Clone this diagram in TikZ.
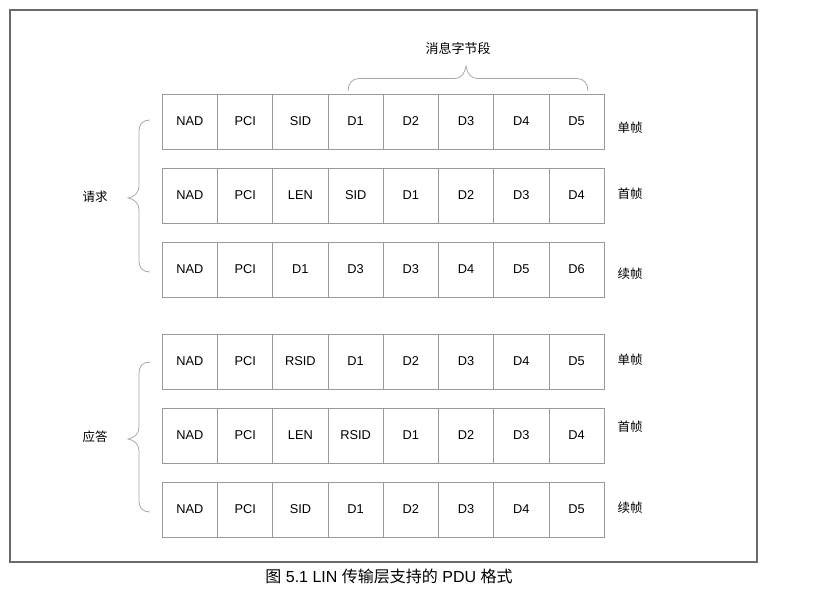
\documentclass[tikz,border=0pt]{standalone}
\usepackage{fontspec}
\setmainfont{Liberation Sans}
\newfontfamily\cjk{Noto Sans CJK SC}
\definecolor{framegray}{HTML}{6A6A6A}
\definecolor{cellgray}{HTML}{9A9A9A}
\definecolor{bgray}{HTML}{A8A8A8}
\begin{document}
\begin{tikzpicture}[x=1pt,y=-1pt,
  cell/.style={draw=cellgray, line width=0.8pt, minimum width=55.25pt, minimum height=55pt,
    anchor=north west, inner sep=0pt, outer sep=0pt, font=\fontsize{12.8}{14}\selectfont},
  lab/.style={font=\cjk\fontsize{12.5}{14}\selectfont, inner sep=0pt},
  bracestyle/.style={draw=bgray, line width=0.8pt}]
\useasboundingbox (0,0) rectangle (823,599);
\draw[framegray, line width=1.5pt] (10,10) rectangle (757,562);
% rows of cells
\foreach \r/\y/\lst in {
  1/94/{NAD,PCI,SID,D1,D2,D3,D4,D5},
  2/168/{NAD,PCI,LEN,SID,D1,D2,D3,D4},
  3/242/{NAD,PCI,D1,D3,D3,D4,D5,D6},
  4/334/{NAD,PCI,RSID,D1,D2,D3,D4,D5},
  5/408/{NAD,PCI,LEN,RSID,D1,D2,D3,D4},
  6/482/{NAD,PCI,SID,D1,D2,D3,D4,D5}} {
  \foreach \t [count=\c] in \lst {
    \node[cell] (r\r c\c) at ({162.3+(\c-1)*55.25}, \y) {\t};
  }
}
% right labels
\node[lab] (l1) at (630,128) {单帧};
\node[lab] (l2) at (630,194) {首帧};
\node[lab] (l3) at (630,274) {续帧};
\node[lab] (l4) at (630,360) {单帧};
\node[lab] (l5) at (630,427) {首帧};
\node[lab] (l6) at (630,508) {续帧};
% left labels
\node[lab] (req) at (95,197) {请求};
\node[lab] (resp) at (95,437) {应答};
% top label
\node[lab, font=\cjk\fontsize{13}{15}\selectfont] (msg) at (458,49) {消息字节段};
% caption
\node[inner sep=0pt, font=\fontsize{16}{18}\selectfont] (cap) at (389,576)
  {{\cjk 图} 5.1 LIN {\cjk 传输层支持的} PDU {\cjk 格式}};
% left braces
\draw[bracestyle] (150,120) .. controls (143,120) and (139,124) .. (139,131)
  -- (139,186) .. controls (139,193) and (134,197) .. (128,198)
  .. controls (134,199) and (139,203) .. (139,210)
  -- (139,261) .. controls (139,268) and (143,272) .. (150,272);
\draw[bracestyle] (150,362) .. controls (143,362) and (139,366) .. (139,373)
  -- (139,427) .. controls (139,434) and (134,438) .. (128,439)
  .. controls (134,440) and (139,444) .. (139,451)
  -- (139,501) .. controls (139,508) and (143,512) .. (150,512);
% top brace
\draw[bracestyle] (348,91) .. controls (348,84) and (352,78.5) .. (359,78.5)
  -- (455,78.5) .. controls (461,78.5) and (465,73) .. (466,66)
  .. controls (467,73) and (471,78.5) .. (477,78.5)
  -- (577,78.5) .. controls (584,78.5) and (588,84) .. (588,91);
\end{tikzpicture}
\end{document}
